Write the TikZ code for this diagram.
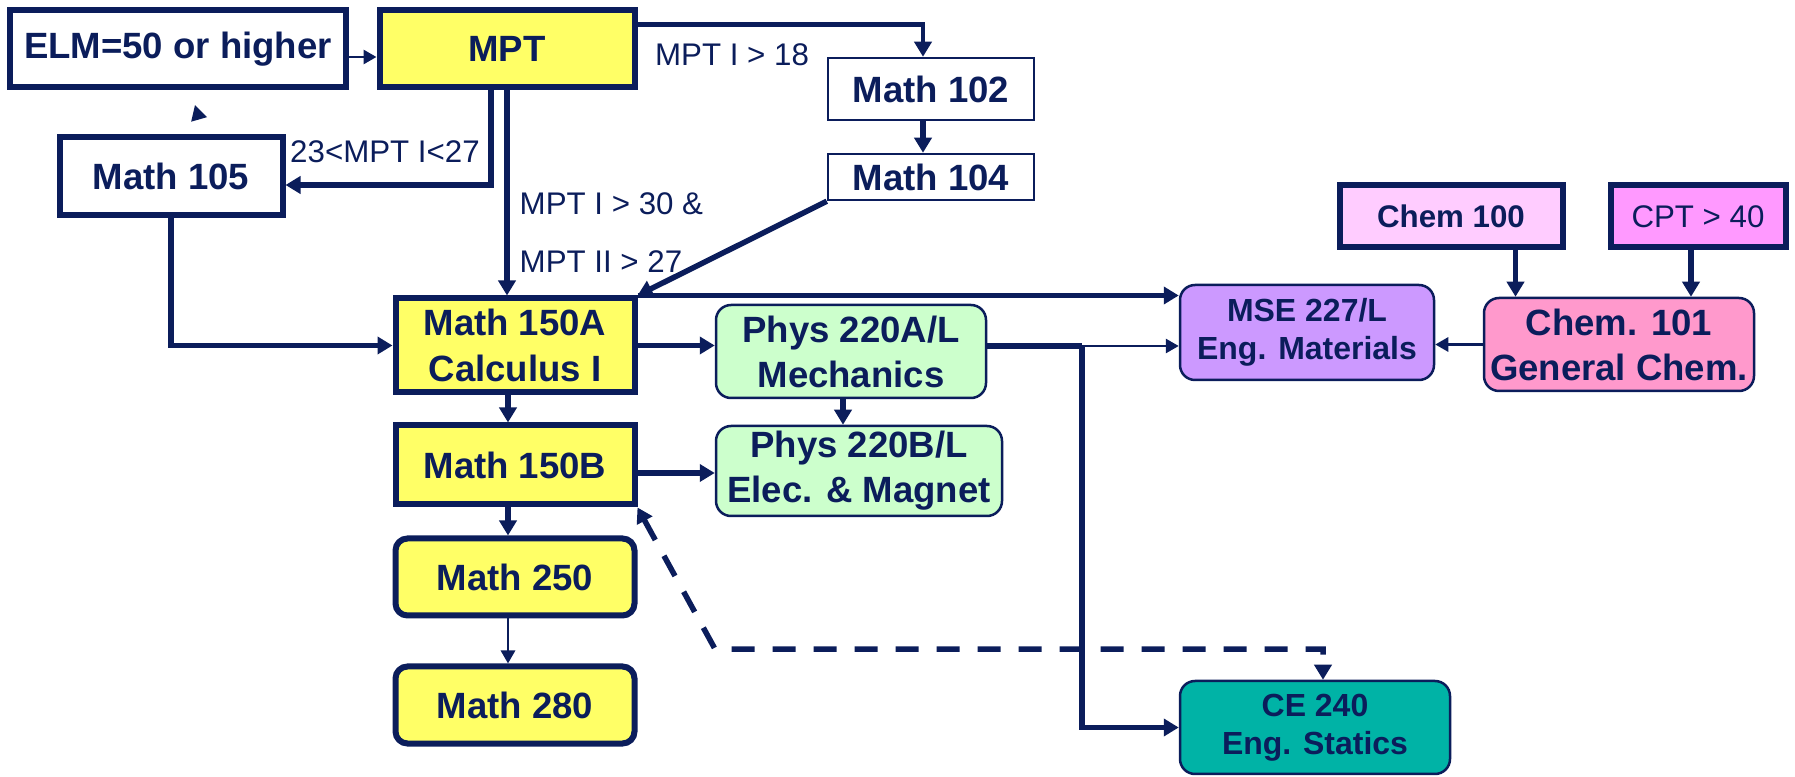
\documentclass[tikz,border=0pt]{standalone}
\usepackage{fontspec}
\setmainfont{Liberation Sans}
\usetikzlibrary{arrows.meta, positioning}
\definecolor{navy}{HTML}{0B1D5B}
\definecolor{lemon}{HTML}{FFFF66}
\definecolor{mint}{HTML}{CCFFCC}
\definecolor{lilac}{HTML}{CC99FF}
\definecolor{rose}{HTML}{FF99CC}
\definecolor{blush}{HTML}{FFCCFF}
\definecolor{orchid}{HTML}{FF99FF}
\definecolor{seagreen}{HTML}{00B3A6}

\begin{document}
\begin{tikzpicture}[
  box/.style={draw=navy, line width=0.6mm, fill=white, text=navy, inner sep=0pt, align=center,
              font=\bfseries\fontsize{10.4}{13}\selectfont},
  pbox/.style={box, line width=0.25mm, rounded corners=1.5mm, font=\bfseries\fontsize{10.4}{12.8}\selectfont},
  sbox/.style={pbox, font=\bfseries\fontsize{9.1}{10.8}\selectfont},
  lbl/.style={text=navy, inner sep=0pt, align=left, font=\fontsize{8.9}{10.7}\selectfont},
  arr/.style={-{Triangle[length=1.5mm, width=1.7mm]}, line width=0.55mm, draw=navy},
  tarr/.style={-{Triangle[length=1.3mm, width=1.4mm]}, line width=0.28mm, draw=navy},
  darr/.style={{Triangle[length=1.5mm, width=1.7mm]}-{Triangle[length=1.5mm, width=1.7mm]},
               line width=0.55mm, draw=navy, dash pattern=on 2.3mm off 1.8mm},
]
\useasboundingbox (0,0) rectangle (17.95,-7.77);

% placement and math track
\node[box, minimum width=3.35cm, minimum height=0.77cm] (elm) at (1.78,-0.49) {ELM=50 or higher};
\node[box, fill=lemon, minimum width=2.55cm, minimum height=0.77cm] (mpt) at (5.07,-0.49) {MPT};
\node[pbox, rounded corners=0pt, minimum width=2.06cm, minimum height=0.62cm] (m102) at (9.31,-0.89) {Math 102};
\node[pbox, rounded corners=0pt, minimum width=2.06cm, minimum height=0.46cm] (m104) at (9.31,-1.77) {Math 104};
\node[box, minimum width=2.23cm, minimum height=0.78cm] (m105) at (1.71,-1.765) {Math 105};
\node[box, fill=lemon, minimum width=2.39cm, minimum height=0.94cm] (m150a) at (5.15,-3.455) {Math 150A\\Calculus I};
\node[box, fill=lemon, minimum width=2.39cm, minimum height=0.79cm] (m150b) at (5.15,-4.65) {Math 150B};
\node[box, fill=lemon, rounded corners=1.2mm, minimum width=2.39cm, minimum height=0.77cm] (m250) at (5.15,-5.77) {Math 250};
\node[box, fill=lemon, rounded corners=1.2mm, minimum width=2.39cm, minimum height=0.77cm] (m280) at (5.15,-7.05) {Math 280};

% physics, chemistry, engineering
\node[pbox, fill=mint, minimum width=2.70cm, minimum height=0.93cm] (phys1) at (8.51,-3.515) {Phys 220A/L\\Mechanics};
\node[pbox, fill=mint, minimum width=2.86cm, minimum height=0.90cm] (phys2) at (8.59,-4.71) {Phys 220B/L\\Elec. \& Magnet};
\node[sbox, fill=lilac, minimum width=2.54cm, minimum height=0.95cm] (mse) at (13.07,-3.325) {MSE 227/L\\Eng. Materials};
\node[pbox, fill=rose, minimum width=2.70cm, minimum height=0.93cm] (c101) at (16.19,-3.445) {Chem. 101\\General Chem.};
\node[box, fill=blush, font=\bfseries\fontsize{8.9}{10.7}\selectfont,
      minimum width=2.23cm, minimum height=0.62cm] (c100) at (14.51,-2.165) {Chem 100};
\node[box, fill=orchid, font=\fontsize{8.9}{10.7}\selectfont,
      minimum width=1.75cm, minimum height=0.62cm] (cpt) at (16.98,-2.165) {CPT > 40};
\node[sbox, fill=seagreen, minimum width=2.70cm, minimum height=0.93cm] (ce) at (13.15,-7.275) {CE 240\\Eng. Statics};

% condition labels
\node[lbl] (l18) at (7.32,-0.55) {MPT I > 18};
\node[lbl] (l23) at (3.85,-1.52) {23<MPT I<27};
\node[lbl, anchor=west, font=\fontsize{8.9}{16.5}\selectfont] (l30) at (5.19,-2.33) {MPT I > 30 \&\\MPT II > 27};

\coordinate (jn) at (10.82,-3.46);
\coordinate (dk) at (7.15,-6.49);
\coordinate (stubA) at (1.99,-1.19);
\coordinate (stubB) at (1.95,-1.05);

\draw[tarr] ([yshift=-0.08cm]elm.east) -- ([yshift=-0.08cm]mpt.west);
\draw[-{Triangle[length=1.5mm, width=1.6mm]}, line width=0.2mm, navy] (stubA) -- (stubB);
\draw[arr, line width=0.45mm] ([yshift=-0.17cm]mpt.north east) -| ([xshift=-0.08cm]m102.north);
\draw[arr] ([xshift=-0.08cm]m102.south) -- ([xshift=-0.08cm]m104.north);
\draw[arr] (m104.south west) -- (m150a.north east);
\draw[arr] ([xshift=-0.16cm]mpt.south) |- ([yshift=-0.085cm]m105.east);
\draw[arr] (mpt.south) -- (mpt.south |- m150a.north);
\draw[arr] (m105.south) |- (m150a.west);
\draw[arr] (m150a.north east) -- (m150a.north east -| mse.west);
\draw[arr] (m150a.east) -- (m150a.east -| phys1.west);
\draw[arr] ([xshift=-0.07cm]m150a.south) -- ([xshift=-0.07cm]m150b.north);
\draw[line width=0.55mm, navy] (jn -| phys1.east) -- (jn);
\draw[tarr] (jn) -- (jn -| mse.west);
\draw[arr] (jn) |- (ce.west);
\draw[arr] ([xshift=-0.08cm]phys1.south) -- ([xshift=-0.08cm]phys1.south |- phys2.north);
\draw[arr] ([yshift=-0.08cm]m150b.east) -- ([yshift=-0.08cm]m150b.east -| phys2.west);
\draw[arr] ([xshift=-0.07cm]m150b.south) -- ([xshift=-0.07cm]m250.north);
\draw[tarr] ([xshift=-0.07cm]m250.south) -- ([xshift=-0.07cm]m280.north);
\draw[darr] (m150b.south east) -- (dk) -| ([xshift=0.08cm]ce.north);
\draw[tarr] (c101.west) -- (c101.west -| mse.east);
\draw[arr] ([xshift=-0.5cm]c100.south east) -- ([xshift=-0.5cm]c100.south east |- c101.north);
\draw[arr] ([xshift=-0.07cm]cpt.south) -- ([xshift=-0.07cm]cpt.south |- c101.north);
\end{tikzpicture}
\end{document}
